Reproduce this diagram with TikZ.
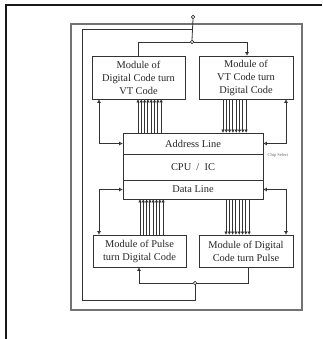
\documentclass[tikz,border=0pt]{standalone}
\usepackage{fontspec}
\setmainfont{Liberation Serif}
\usetikzlibrary{arrows.meta}
\begin{document}
\begin{tikzpicture}[x=1pt,y=-1pt,
  modbox/.style={draw=black!80,line width=0.8pt,align=center,inner sep=0pt,font=\fontsize{10.4}{13}\selectfont,text=black!85},
  cpurow/.style={draw=black!80,line width=0.8pt,inner sep=0pt,minimum width=140pt,font=\fontsize{10.4}{12}\selectfont,text=black!85},
  wire/.style={draw=black!80,line width=0.8pt},
  side/.style={wire,{Triangle[open,length=3.5pt,width=3.5pt]}-{Triangle[open,length=3.5pt,width=3.5pt]}},
  bus/.style={draw=black!80,line width=0.85pt},
  busTip/.style={bus,arrows={-Triangle[length=3pt,width=3pt]}},
  dotc/.style={circle,draw=black!85,fill=white,line width=0.7pt,inner sep=0pt,minimum size=3.5pt}]
\useasboundingbox (0,0) rectangle (322,339);
% outer frame
\coordinate (fa) at (322,5);
\coordinate (fb) at (6,5);
\coordinate (fc) at (6,339);
\draw[line width=2pt,black!90] (fa) -- (fb) -- (fc);
% big gray rectangle
\draw[black!55,line width=1.2pt] (71,24) rectangle (302,310);
% modules
\node[modbox,minimum width=93pt,minimum height=43pt] (tl) at (138.5,77.5) {Module of\\Digital Code turn\\VT Code};
\node[modbox,minimum width=94pt,minimum height=43pt] (tr) at (246,77.5) {Module of\\VT Code turn\\Digital Code};
\node[modbox,minimum width=93pt,minimum height=32pt] (bl) at (139.5,251) {Module of Pulse\\turn Digital Code};
\node[modbox,minimum width=94pt,minimum height=32pt] (br) at (246,251) {Module of Digital\\Code turn Pulse};
% CPU
\node[cpurow,minimum height=21pt] (addr) at (193,143.5) {Address Line};
\node[cpurow,minimum height=26pt] (cpu) at (193,167) {CPU\ \ /\ \ IC};
\node[cpurow,minimum height=19pt] (data) at (193,189.5) {Data Line};
\node[font=\fontsize{4.5}{5}\selectfont,text=black!60,inner sep=0pt] (cs) at (278,155) {Chip Select};
% buses
\foreach \i in {0,...,7}{
  \pgfmathsetmacro\xa{138+\i*3.3}
  \pgfmathsetmacro\xb{223+\i*3.3}
  \pgfmathsetmacro\xc{140+\i*3.3}
  \pgfmathsetmacro\xd{226+\i*3.3}
  \draw[busTip] (\xa,0 |- addr.north) -- (\xa,0 |- tl.south);
  \draw[busTip] (\xb,0 |- tr.south) -- (\xb,0 |- addr.north);
  \draw[busTip] (\xc,0 |- bl.north) -- (\xc,0 |- data.south);
  \draw[busTip] (\xd,0 |- data.south) -- (\xd,0 |- br.north);
}
% side connectors
\draw[side] (99,0 |- tl.south) |- (addr.west);
\draw[side] (286,0 |- tr.south) |- (addr.east);
\draw[side] (data.west) -| (99,0 |- bl.north);
\draw[side] (data.east) -| (286,0 |- br.north);
% top connections
\node[dotc] (term) at (193,17) {};
\node[dotc] (jt) at (192,42) {};
\draw[wire] (term.south) -- (192,0 |- jt.north);
\draw[wire] (tl.north) |- (jt.west);
\draw[wire,-{Triangle[open,length=3.5pt,width=3.5pt]}] (jt.east) -| (247,0 |- tr.north);
% inner loop
\node[dotc] (jb) at (195,283) {};
\coordinate (l1) at (193,29);
\coordinate (l2) at (82,29);
\coordinate (l3) at (82,300);
\coordinate (l4) at (195,300);
\draw[wire] (l1) -- (l2) -- (l3) -- (l4) -- (jb.south);
% bottom connections
\draw[wire,-{Triangle[open,length=3.5pt,width=3.5pt]}] (jb.west) -| (139,0 |- bl.south);
\draw[wire] (jb.east) -| (248,0 |- br.south);
\end{tikzpicture}
\end{document}
